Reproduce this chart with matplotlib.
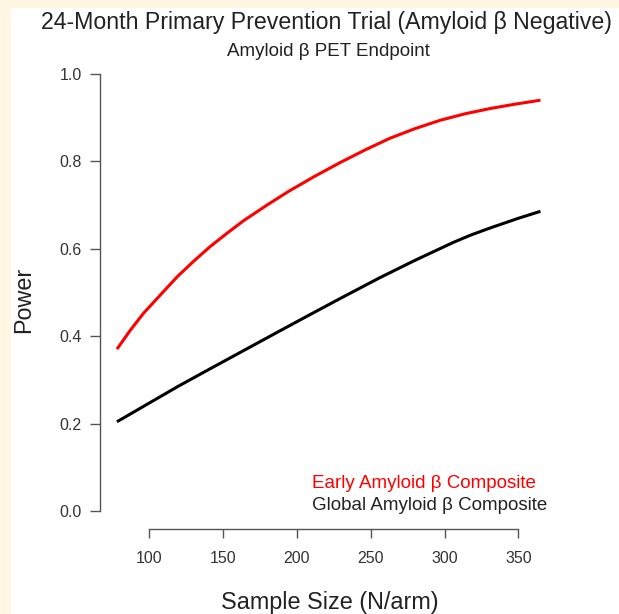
import matplotlib
matplotlib.use("Agg")
import matplotlib.pyplot as plt
from matplotlib.patches import Rectangle

plt.rcParams['font.family'] = ['Liberation Sans', 'DejaVu Sans']

# early amyloid beta composite (red): sample size per arm, power
n_early = [78, 87, 96, 108, 119, 130, 141, 153, 164, 180, 195, 212, 229, 246, 263, 280, 297, 314, 331, 348, 365]
power_early = [0.370, 0.413, 0.452, 0.496, 0.536, 0.571, 0.604, 0.636, 0.664, 0.700, 0.732, 0.765, 0.796,
               0.825, 0.852, 0.874, 0.893, 0.908, 0.920, 0.930, 0.939]
# global amyloid beta composite (black)
n_global = [78, 100, 120, 140, 164, 188, 210, 230, 256, 280, 306, 318, 331, 350, 365]
power_global = [0.204, 0.247, 0.286, 0.323, 0.367, 0.411, 0.451, 0.487, 0.533, 0.573, 0.614, 0.631,
                0.647, 0.669, 0.685]

x_ticks = [100, 150, 200, 250, 300, 350]
y_ticks = [0.0, 0.2, 0.4, 0.6, 0.8, 1.0]

fig = plt.figure(figsize=(6.19, 6.14), dpi=100)
fig.patch.set_facecolor('#FFF7E4')
# white panel, cream strip shows at top and left
fig.patches.append(Rectangle((11 / 619, 0), 1, 1 - 8 / 614, transform=fig.transFigure,
                             facecolor='white', edgecolor='none', zorder=-5))

ax = fig.add_axes([100 / 619, 1 - 528.5 / 614, 457.4 / 619, 472.5 / 614])
ax.set_zorder(2)
ax.set_facecolor('none')

ax.plot(n_early, power_early, color='#FF0000', lw=2.2, solid_capstyle='butt', solid_joinstyle='round')
ax.plot(n_global, power_global, color='black', lw=2.2, solid_capstyle='butt', solid_joinstyle='round')

ax.set_xlim(66.5, 376.5)
ax.set_ylim(-0.04, 1.04)

for s in ['top', 'right']:
    ax.spines[s].set_visible(False)
ax.spines['left'].set_bounds(0, 1)
ax.spines['bottom'].set_bounds(100, 350)
for s in ['left', 'bottom']:
    ax.spines[s].set_color('#555555')
    ax.spines[s].set_linewidth(1.0)

ax.set_xticks(x_ticks)
ax.set_xticklabels([str(v) for v in x_ticks])
ax.set_yticks(y_ticks)
ax.set_yticklabels(['%.1f' % v for v in y_ticks])
ax.tick_params(axis='both', direction='out', colors='#555555', labelcolor='#333333',
               labelsize=11.5, width=1.0)
ax.tick_params(axis='y', length=7.2, pad=6)
ax.tick_params(axis='x', length=6.5, pad=10)

fig.text(0.527, 1 - 22 / 614, u'24-Month Primary Prevention Trial (Amyloid \u03b2 Negative)',
         ha='center', va='center', fontsize=16.7, color='#222222')
fig.text(0.531, 1 - 52 / 614, u'Amyloid \u03b2 PET Endpoint',
         ha='center', va='center', fontsize=13.5, color='#222222')

fig.text(312.5 / 619, 1 - 484 / 614, u'Early Amyloid \u03b2 Composite',
         ha='left', va='center', fontsize=13.5, color='#FF0000')
fig.text(312.5 / 619, 1 - 506 / 614, u'Global Amyloid \u03b2 Composite',
         ha='left', va='center', fontsize=13.5, color='#222222')

fig.text(0.533, 1 - 603 / 614, 'Sample Size (N/arm)', ha='center', va='center',
         fontsize=16.8, color='#222222')
fig.text(24 / 619, 1 - 300 / 614, 'Power', ha='center', va='center', rotation=90,
         fontsize=16.8, color='#222222')

fig.savefig('out.png', dpi=100, facecolor=fig.get_facecolor())
